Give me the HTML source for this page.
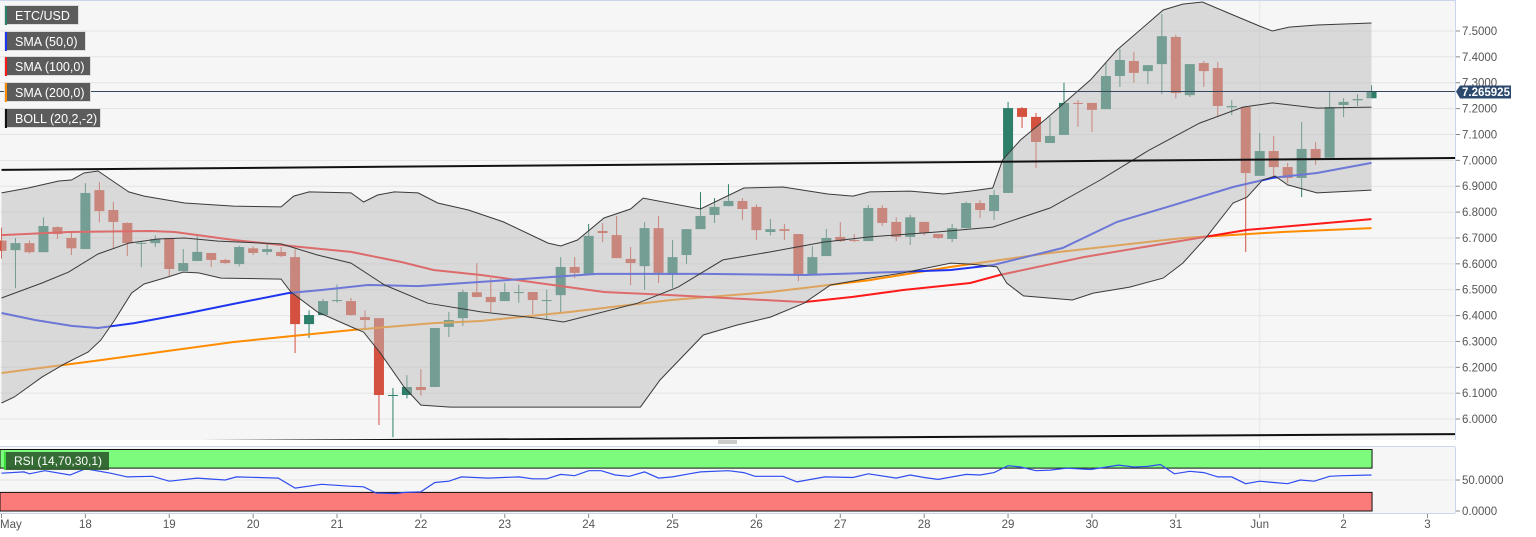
<!DOCTYPE html>
<html><head><meta charset="utf-8">
<style>
html,body{margin:0;padding:0;background:#fff;}
svg{display:block;font-family:"Liberation Sans",sans-serif;}
</style></head>
<body>
<svg id="chart" width="1536" height="537" viewBox="0 0 1536 537" xmlns="http://www.w3.org/2000/svg">
  <defs>
    <clipPath id="plotClip"><rect x="0" y="1" width="1455" height="439"/></clipPath>
    <clipPath id="rsiClip"><rect x="0" y="447" width="1455" height="66"/></clipPath>
  </defs>
  <rect x="0" y="0" width="1455" height="440" fill="#f6f6f6"/>
  <rect x="0" y="447" width="1455" height="66" fill="#f6f6f6"/>
  <g id="grid"></g>
  <g id="candles" clip-path="url(#plotClip)"></g>
  <g id="smas" clip-path="url(#plotClip)"></g>
  <g id="boll" clip-path="url(#plotClip)"></g>
  <g id="trend" clip-path="url(#plotClip)"></g>
  <line x1="0" y1="0.5" x2="1455" y2="0.5" stroke="#ccd6eb"/>
  <line x1="1455.5" y1="0" x2="1455.5" y2="440" stroke="#ccd6eb"/>
  <line x1="1455.5" y1="447" x2="1455.5" y2="513" stroke="#ccd6eb"/>
  <line x1="0" y1="446.5" x2="1455" y2="446.5" stroke="#ccd6eb"/>
  <line x1="0" y1="513.5" x2="1455" y2="513.5" stroke="#ccd6eb"/>
  <g>
    <line x1="718" y1="441" x2="737" y2="441" stroke="#999"/>
    <line x1="718" y1="443" x2="737" y2="443" stroke="#999"/>
  </g>
  <g id="yaxis"></g>
  <g id="rsi"></g>
  <g id="xaxis"></g>
  <g id="lastprice"></g>
  <g id="legend"></g>
</svg>
<script>
// ---- data ----
const openP  = [6.69,6.653,6.68,6.645,6.742,6.70,6.657,6.885,6.808,6.758,6.679,6.68,6.70,6.572,6.611,6.642,6.615,6.599,6.66,6.646,6.646,6.626,6.367,6.402,6.456,6.456,6.394,6.39,6.09,6.093,6.124,6.124,6.356,6.39,6.49,6.472,6.456,6.487,6.491,6.456,6.479,6.588,6.557,6.727,6.711,6.619,6.591,6.738,6.557,6.634,6.734,6.789,6.823,6.843,6.82,6.723,6.734,6.715,6.557,6.63,6.704,6.692,6.688,6.816,6.762,6.704,6.762,6.715,6.696,6.738,6.835,6.804,6.874,7.202,7.168,7.067,7.098,7.222,7.222,7.198,7.326,7.384,7.345,7.372,7.477,7.252,7.376,7.357,7.205,7.206,6.94,7.036,6.974,6.932,7.044,7.01,7.214,7.232,7.24];
const highP  = [6.74,6.70,6.69,6.78,6.745,6.72,6.912,6.916,6.84,6.76,6.685,6.71,6.70,6.657,6.71,6.642,6.619,6.67,6.668,6.68,6.665,6.657,6.42,6.464,6.52,6.468,6.42,6.39,6.12,6.17,6.193,6.352,6.414,6.50,6.603,6.545,6.526,6.52,6.491,6.50,6.626,6.626,6.754,6.758,6.785,6.665,6.761,6.785,6.692,6.734,6.877,6.854,6.908,6.854,6.83,6.773,6.754,6.715,6.668,6.735,6.761,6.715,6.827,6.827,6.78,6.79,6.762,6.715,6.754,6.84,6.846,6.885,7.226,7.206,7.183,7.168,7.30,7.233,7.222,7.376,7.43,7.42,7.368,7.566,7.485,7.372,7.384,7.38,7.233,7.206,7.106,7.094,6.99,7.148,7.071,7.264,7.24,7.256,7.29];
const lowP   = [6.62,6.506,6.64,6.645,6.696,6.634,6.657,6.76,6.66,6.63,6.587,6.665,6.553,6.572,6.611,6.588,6.60,6.59,6.634,6.634,6.626,6.255,6.313,6.402,6.45,6.40,6.344,5.977,5.93,6.08,6.09,6.124,6.317,6.36,6.47,6.414,6.456,6.45,6.406,6.387,6.41,6.545,6.557,6.684,6.622,6.518,6.50,6.526,6.506,6.60,6.734,6.758,6.823,6.77,6.692,6.71,6.692,6.533,6.557,6.63,6.684,6.684,6.688,6.746,6.688,6.673,6.71,6.696,6.684,6.738,6.777,6.77,6.874,7.125,6.97,7.067,7.098,7.13,7.11,7.198,7.284,7.30,7.295,7.256,7.24,7.245,7.284,7.167,7.175,6.646,6.94,6.936,6.912,6.858,6.982,7.01,7.167,7.21,7.24];
const closeP = [6.65,6.68,6.645,6.746,6.715,6.66,6.874,6.804,6.762,6.68,6.681,6.696,6.58,6.603,6.646,6.615,6.603,6.665,6.642,6.657,6.63,6.367,6.402,6.456,6.46,6.402,6.383,6.093,6.093,6.124,6.112,6.352,6.383,6.491,6.472,6.452,6.491,6.491,6.46,6.46,6.588,6.565,6.708,6.719,6.622,6.603,6.738,6.565,6.626,6.734,6.785,6.82,6.843,6.812,6.73,6.734,6.727,6.557,6.626,6.70,6.688,6.69,6.816,6.758,6.704,6.78,6.719,6.70,6.738,6.835,6.808,6.866,7.202,7.168,7.071,7.094,7.222,7.218,7.195,7.326,7.388,7.338,7.368,7.48,7.26,7.372,7.345,7.21,7.21,6.951,7.036,6.974,6.932,7.044,7.005,7.206,7.226,7.237,7.266];

const bollUpIdx = [0,1.9,4.1,5,5.9,6.9,9.1,10.2,13.1,16.6,20,20.9,22,25,25.9,26.9,28.1,29.8,31.2,33.4,35.9,39.1,40,41.2,43.1,45,45.9,50,53.1,55.9,59.1,60.9,62.1,65,67.4,69.3,70.9,71.6,72.9,74.8,77.9,79.8,83.1,84.5,85.9,88.1,90,90.9,92.1,94.1,98];
const bollUpVal = [6.874,6.893,6.920,6.924,6.951,6.959,6.878,6.862,6.835,6.823,6.820,6.862,6.878,6.874,6.839,6.866,6.878,6.874,6.835,6.808,6.762,6.680,6.669,6.692,6.777,6.812,6.854,6.812,6.893,6.897,6.870,6.862,6.878,6.881,6.870,6.881,6.893,7.001,7.079,7.164,7.311,7.427,7.581,7.604,7.612,7.562,7.519,7.500,7.515,7.523,7.531];
const bollLoIdx = [0,0.9,2.9,4.5,6.2,7.1,8.1,9.3,10.2,11.9,13,14.1,15.7,20,20.7,22.6,25.2,25.9,27.1,28.8,30,32.1,34.3,45.7,47.1,50.2,52.6,55,57.4,59.3,62.1,64.5,67.9,69.3,71.2,71.9,73.1,76.6,78.1,80.7,83.1,84.5,86.2,88.1,89.1,90.2,91.1,92,94.1,98];
const bollLoVal = [6.062,6.085,6.162,6.213,6.259,6.305,6.383,6.487,6.522,6.549,6.568,6.565,6.545,6.541,6.491,6.414,6.352,6.336,6.255,6.124,6.054,6.046,6.046,6.046,6.151,6.325,6.363,6.394,6.448,6.518,6.545,6.565,6.603,6.599,6.588,6.526,6.476,6.460,6.487,6.510,6.545,6.603,6.704,6.835,6.858,6.924,6.939,6.905,6.874,6.885];
const bollMidIdx = [0,2.9,4.8,6.9,9.1,11.2,13.1,15.5,20,22.6,25,27.4,30.5,34.3,38.4,40.2,45.5,48.4,51.6,55,58.8,62.1,66.9,70.9,75,78.6,82.1,85.7,88.8,90.9,94.1,98];
const bollMidVal = [6.468,6.526,6.568,6.638,6.680,6.696,6.700,6.688,6.677,6.634,6.603,6.518,6.448,6.414,6.390,6.375,6.448,6.510,6.615,6.646,6.684,6.704,6.723,6.742,6.816,6.924,7.040,7.144,7.206,7.222,7.202,7.206];

const sma50Idx = [0,2.4,5,6.9,9.5,13.4,16.6,20.5,22.9,26.2,29.8,34.3,42.6,50.2,57.4,62.1,67.9,70.9,75.9,79.8,83.4,88.1,90.9,94.1,98];
const sma50Val = [6.410,6.383,6.360,6.352,6.371,6.410,6.445,6.487,6.499,6.518,6.514,6.530,6.561,6.561,6.557,6.565,6.576,6.595,6.661,6.762,6.820,6.897,6.932,6.951,6.990];
const sma100Idx = [0,4.8,10.7,12.4,16.6,21.4,25,28.6,30.9,34.3,38.4,43.1,47.9,57.4,60.9,64.5,69.3,71.4,77.4,83.4,89.1,98];
const sma100Val = [6.711,6.723,6.727,6.723,6.692,6.665,6.646,6.607,6.576,6.557,6.526,6.491,6.479,6.452,6.472,6.499,6.526,6.557,6.626,6.680,6.731,6.773];
const sma200Idx = [0,7.1,16.6,25,30.9,34.3,40.7,47.9,55,62.1,67.9,75,84.5,91.6,98];
const sma200Val = [6.178,6.228,6.298,6.344,6.371,6.379,6.414,6.460,6.491,6.537,6.588,6.642,6.700,6.723,6.738];

const trendTopIdx = [0,104];
const trendTopVal = [6.963,7.009];
const trendLowIdx = [0,104];
const trendLowVal = [5.911,5.942];

const rsiIdx = [0,1.6,2,3.1,4.9,6,7.8,9,10.8,12,14,16,16.8,19.8,21,22.9,24.9,25.9,26.8,28.2,28.8,30,31,32,32.9,34.8,37,38,39,40,41,42,42.9,43.9,44.9,46,47,48,49.2,50,52,53.1,53.9,55.9,56.9,58.9,60.9,62,64,65,66,67,69,70,71,72,72.9,74,75,76.2,77.9,79.9,81,82,82.9,83.9,85,86,87,88,89,90,91,92,92.9,93.9,95,95.9,98];
const rsiVal = [61,63,60,65,58,68,61,55,56,48,53,50,55,53,37,43,40,39,29,28,30,31,46,48,55,53,55,52,52,59,57,65,65,58,56,63,53,55,60,63,65,62,56,56,47,55,54,60,53,58,54,51,59,58,62,73,71,65,66,69,67,74,71,72,75,60,64,62,55,55,44,48,46,44,50,48,56,57,58];

const priceTicks = [6.0,6.1,6.2,6.3,6.4,6.5,6.6,6.7,6.8,6.9,7.0,7.1,7.2,7.3,7.4,7.5];
const rsiTicks = [0,50];
const dayLabels = ["May","18","19","20","21","22","23","24","25","26","27","28","29","30","31","Jun","2","3"];
const dayIdx = [0,6,12,18,24,30,36,42,48,54,60,66,72,78,84,90,96,102];
const lastPrice = 7.265925;

// ---- scales ----
const NS = "http://www.w3.org/2000/svg";
const xI = i => 1.5 + i * 13.98;
const yP = p => 31 + (7.5 - p) * 258.7;
const yR = v => 511 - v * 0.62;
function mk(tag, attrs, parent) {
  const e = document.createElementNS(NS, tag);
  for (const k in attrs) e.setAttribute(k, attrs[k]);
  parent.appendChild(e);
  return e;
}
const G = id => document.getElementById(id);

// grid
const grid = G('grid');
priceTicks.forEach(p => {
  const l = mk('line', {x1:0, x2:1455, y1:yP(p), y2:yP(p), stroke:'#e4e4e4', 'stroke-width':1}, grid);
  
  
});
const rg = mk('line', {x1:0, x2:1455, y1:yR(50), y2:yR(50), stroke:'#e4e4e4'}, grid);


const vg = mk('line', {x1:xI(90), x2:xI(90), y1:0, y2:513, stroke:'#e6e6e6'}, grid);



// candles
const cg = G('candles');
for (let i = 0; i < closeP.length; i++) {
  const up = closeP[i] >= openP[i];
  const col = up ? '#2d7f6a' : '#d4513f';
  const x = xI(i);
  const w = mk('line', {x1:x, x2:x, y1:yP(highP[i]), y2:yP(lowP[i]), stroke:col, 'stroke-width':1}, cg);
  
  
  const top = yP(Math.max(openP[i], closeP[i]));
  const bot = yP(Math.min(openP[i], closeP[i]));
  const b = mk('rect', {x:x-5, y:top, width:10, height:Math.max(1, bot-top), fill:col}, cg);
  
  
}

function pathOf(idx, val, yf) {
  return idx.map((i, k) => (k ? 'L' : 'M') + xI(i).toFixed(1) + ' ' + yf(val[k]).toFixed(1)).join(' ');
}

// SMAs (under band fill)
const sg = G('smas');
[[sma200Idx, sma200Val, '#ff8c00', 'sma-200-line'],
 [sma100Idx, sma100Val, '#ff1a1a', 'sma-100-line'],
 [sma50Idx, sma50Val, '#1f35f0', 'sma-50-line']].forEach(s => {
  const p = mk('path', {d:pathOf(s[0], s[1], yP), fill:'none', stroke:s[2], 'stroke-width':2}, sg);
  
  
});

// Bollinger
const bg = G('boll');
const upPts = bollUpIdx.map((i, k) => xI(i).toFixed(1) + ',' + yP(bollUpVal[k]).toFixed(1));
const loPts = bollLoIdx.map((i, k) => xI(i).toFixed(1) + ',' + yP(bollLoVal[k]).toFixed(1)).reverse();
const fillP = mk('polygon', {points: upPts.concat(loPts).join(' '), fill:'rgba(188,188,188,0.5)'}, bg);


[[bollUpIdx, bollUpVal, 'bollinger-upper'], [bollMidIdx, bollMidVal, 'bollinger-middle'], [bollLoIdx, bollLoVal, 'bollinger-lower']].forEach(s => {
  const p = mk('path', {d:pathOf(s[0], s[1], yP), fill:'none', stroke:'#3a3a3a', 'stroke-width':1}, bg);
  
  
});

// trend lines
const tg = G('trend');
const t1 = mk('path', {d:pathOf(trendTopIdx, trendTopVal, yP), stroke:'#111', 'stroke-width':2, fill:'none'}, tg);


const t2 = mk('path', {d:pathOf(trendLowIdx, trendLowVal, yP), stroke:'#111', 'stroke-width':2, fill:'none'}, tg);



// y axis
const ya = G('yaxis');
priceTicks.forEach(p => {
  const tk = mk('line', {x1:1456, x2:1460, y1:yP(p), y2:yP(p), stroke:'#888'}, ya);
  
  
  const t = mk('text', {x:1462, y:yP(p)+4, 'font-size':11.5, fill:'#555'}, ya);
  
  
  t.textContent = p.toFixed(4);
});

// last price
const lp = G('lastprice');
const ly = yP(lastPrice);
const ll = mk('line', {x1:0, x2:1455, y1:ly, y2:ly, stroke:'#34495e', 'stroke-width':1}, lp);


const lb = mk('path', {d:`M1456 ${ly} L1460 ${ly-6} L1511 ${ly-6} L1511 ${ly+7} L1460 ${ly+7} Z`, fill:'#2c4a6e'}, lp);


const lt = mk('text', {x:1462, y:ly+4.5, 'font-size':11.5, 'font-weight':'bold', fill:'#fff'}, lp);


lt.textContent = lastPrice.toFixed(6);

// RSI panel
const rp = G('rsi');
const gz = mk('rect', {x:0, y:yR(100)+0.5, width:xI(98)+0.5, height:yR(70)-yR(100), fill:'#7cfb7c', stroke:'#111', 'stroke-width':1}, rp);


const rz = mk('rect', {x:0, y:yR(30), width:xI(98)+0.5, height:yR(0)-yR(30), fill:'#fb7b7b', stroke:'#111', 'stroke-width':1}, rp);


const rl = mk('path', {d:pathOf(rsiIdx, rsiVal, yR), fill:'none', stroke:'#2f4cf0', 'stroke-width':1.2}, rp);


rsiTicks.forEach(v => {
  const tk = mk('line', {x1:1456, x2:1460, y1:yR(v), y2:yR(v), stroke:'#888'}, rp);
  
  
  const t = mk('text', {x:1462, y:yR(v)+4, 'font-size':11.5, fill:'#555'}, rp);
  
  
  t.textContent = v.toFixed(4);
});
const rlab = mk('g', {}, rp);


mk('rect', {x:4, y:452, width:105, height:18, fill:'#2f5e2f', opacity:0.92}, rlab);
mk('rect', {x:4, y:452, width:2, height:18, fill:'#3ddc3d'}, rlab);
const rlt = mk('text', {x:14, y:465, 'font-size':12, fill:'#fff'}, rlab);
rlt.textContent = 'RSI (14,70,30,1)';

// x axis
const xa = G('xaxis');
dayLabels.forEach((d, k) => {
  const x = xI(dayIdx[k]);
  const tk = mk('line', {x1:x, x2:x, y1:514, y2:518, stroke:'#888'}, xa);
  
  
  const t = mk('text', {x: k === 0 ? 0 : x, y:528, 'font-size':11.5, fill:'#555', 'text-anchor': k === 0 ? 'start' : 'middle'}, xa);
  
  
  t.textContent = d;
});

// legend
const lg = G('legend');
const items = [['ETC/USD', '#2d7f6a', 5, 74], ['SMA (50,0)', '#1f35f0', 31, 81], ['SMA (100,0)', '#ff1a1a', 56, 86], ['SMA (200,0)', '#ff8c00', 82, 86], ['BOLL (20,2,-2)', '#111', 108, 96]];
const itemNames = ['legend-etc-usd', 'legend-sma-50', 'legend-sma-100', 'legend-sma-200', 'legend-boll'];
items.forEach((it, k) => {
  const g = mk('g', {}, lg);
  
  
  mk('rect', {x:4.5, y:it[2]+0.5, width:it[3], height:19, fill:'#5c5c5c', stroke:'#ddd', 'stroke-width':1}, g);
  mk('rect', {x:5, y:it[2]+1, width:2, height:19, fill:it[1]}, g);
  const t = mk('text', {x:15, y:it[2]+15, 'font-size':12.5, fill:'#fff'}, g);
  t.textContent = it[0];
});
</script>
</body></html>
